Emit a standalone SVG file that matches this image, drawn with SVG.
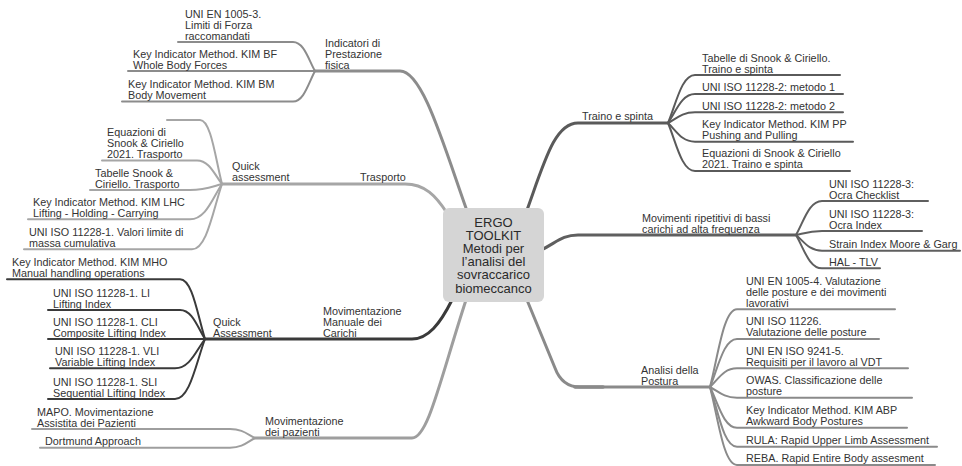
<svg xmlns="http://www.w3.org/2000/svg" width="962" height="466" viewBox="0 0 962 466">
  <style>
    .t { font-family: "Liberation Sans", Arial, sans-serif; font-size: 10.8px; fill: #333; }
    .c { font-family: "Liberation Sans", Arial, sans-serif; font-size: 13px; fill: #2a2a2a; text-anchor: middle; }
    .l { fill: none; stroke-linecap: round; stroke-linejoin: round; }
    .leaf { stroke-width: 2; }
    .main { stroke-width: 3; }
    .g1 { stroke: #8c8c8c; }
    .g2 { stroke: #a6a6a6; }
    .g3 { stroke: #3a3a3a; }
    .g4 { stroke: #9e9e9e; }
    .g5 { stroke: #5a5a5a; }
    .g6 { stroke: #5f5f5f; }
    .g7 { stroke: #8a8a8a; }
  </style>

  <g id="connectors">
    <!-- Indicatori di Prestazione fisica -->
    <path class="l main g1" d="M315,71 H400 C422,71 442,140 466,208"/>
    <path class="l leaf g1" d="M315,71 C308.4,59.4 304,42 293,42 H178"/>
    <path class="l leaf g1" d="M315,71 H128"/>
    <path class="l leaf g1" d="M315,71 C308.4,83.2 304,101.5 293,101.5 H122"/>

    <!-- Trasporto / Quick assessment -->
    <path class="l main g2" d="M222,184 H405 C425,184 436,196 447,213"/>
    <path class="l leaf g2" d="M222,184 C215.4,158.4 211,120 200,120 H167"/>
    <path class="l leaf g2" d="M222,184 C214.5,174.6 209.5,160.5 197,160.5 H102"/>
    <path class="l leaf g2" d="M222,184 C212.4,186.4 206,190 190,190 H90"/>
    <path class="l leaf g2" d="M222,184 C212.4,198.1 206,219.3 190,219.3 H28"/>
    <path class="l leaf g2" d="M222,184 C213,210 207,249.3 192,249.3 H24"/>

    <!-- Movimentazione Manuale dei Carichi / Quick Assessment -->
    <path class="l main g3" d="M205,339 H412 C428,339 440,324 452,300"/>
    <path class="l leaf g3" d="M205,339 C197.5,315.1 192.5,279.3 180,279.3 H7"/>
    <path class="l leaf g3" d="M205,339 C197.5,327.4 192.5,310 180,310 H48"/>
    <path class="l leaf g3" d="M205,339 H48"/>
    <path class="l leaf g3" d="M205,339 C196,350.7 190,368.3 175,368.3 H50"/>
    <path class="l leaf g3" d="M205,339 C196,363 190,399 175,399 H48"/>

    <!-- Movimentazione dei pazienti -->
    <path class="l main g4" d="M255,438 H412 C428,438 440,380 466,300"/>
    <path class="l leaf g4" d="M255,438 C247.5,434.4 242.5,429 230,429 H32"/>
    <path class="l leaf g4" d="M255,438 C247.5,441.9 242.5,447.7 230,447.7 H40"/>

    <!-- Traino e spinta -->
    <path class="l main g5" d="M527,210 C545,160 555,123 578,123 H668"/>
    <path class="l leaf g5" d="M668,123 C676.1,103.8 681.5,75 695,75 H840"/>
    <path class="l leaf g5" d="M668,123 C676.1,111.4 681.5,94 695,94 H843"/>
    <path class="l leaf g5" d="M668,123 C676.1,118.7 681.5,112.3 695,112.3 H843"/>
    <path class="l leaf g5" d="M668,123 C676.1,130.5 681.5,141.7 695,141.7 H853"/>
    <path class="l leaf g5" d="M668,123 C676.1,142.2 681.5,171 695,171 H850"/>

    <!-- Movimenti ripetitivi -->
    <path class="l main g6" d="M541,250 C556,243 562,235 578,235 H796"/>
    <path class="l leaf g6" d="M796,235 C803.8,221.4 809,201 822,201 H928"/>
    <path class="l leaf g6" d="M796,235 C803.8,233.4 809,231 822,231 H922"/>
    <path class="l leaf g6" d="M796,235 C803.8,241.3 809,250.7 822,250.7 H960"/>
    <path class="l leaf g6" d="M796,235 C803.8,248.3 809,268.3 822,268.3 H880"/>

    <!-- Analisi della Postura -->
    <path class="l main g7" d="M527,300 L555,368 Q562,387 580,387 H710"/>
    <path class="l g7" style="stroke-width:3.6" d="M575,387 H603"/>
    <path class="l leaf g7" d="M710,387 C718.1,355.9 723.5,309.3 737,309.3 H895"/>
    <path class="l leaf g7" d="M710,387 C718.1,367.8 723.5,339 737,339 H879"/>
    <path class="l leaf g7" d="M710,387 C718.1,379.5 723.5,368.3 737,368.3 H908"/>
    <path class="l leaf g7" d="M710,387 C718.1,391.3 723.5,397.7 737,397.7 H912"/>
    <path class="l leaf g7" d="M710,387 C718.1,403.3 723.5,427.7 737,427.7 H907"/>
    <path class="l leaf g7" d="M710,387 C718.1,410.9 723.5,446.7 737,446.7 H937"/>
    <path class="l leaf g7" d="M710,387 C718.1,418.2 723.5,465 737,465 H935"/>
  </g>

  <!-- central topic -->
  <g id="root">
    <rect x="443" y="208" width="101" height="94" rx="6" ry="6" fill="#d5d5d5"/>
    <text class="c" x="493.5" y="226.6">ERGO</text>
    <text class="c" x="493.5" y="239.8">TOOLKIT</text>
    <text class="c" x="493.5" y="253">Metodi per</text>
    <text class="c" x="493.5" y="266.2">l’analisi del</text>
    <text class="c" x="493.5" y="279.4">sovraccarico</text>
    <text class="c" x="493.5" y="292.6">biomeccanco</text>
  </g>

  <!-- Indicatori di Prestazione fisica -->
  <g id="indicatori">
    <text class="t" x="325" y="46.5">Indicatori di</text>
    <text class="t" x="325" y="57.5">Prestazione</text>
    <text class="t" x="325" y="68.5">fisica</text>
  </g>
  <g id="uni-en-1005-3">
    <text class="t" x="185" y="17.5">UNI EN 1005-3.</text>
    <text class="t" x="185" y="28.5">Limiti di Forza</text>
    <text class="t" x="185" y="39.5">raccomandati</text>
  </g>
  <g id="kim-bf">
    <text class="t" x="133" y="57.5">Key Indicator Method. KIM BF</text>
    <text class="t" x="133" y="68.5">Whole Body Forces</text>
  </g>
  <g id="kim-bm">
    <text class="t" x="128" y="88">Key Indicator Method. KIM BM</text>
    <text class="t" x="128" y="99">Body Movement</text>
  </g>

  <!-- Trasporto -->
  <g id="trasporto">
    <text class="t" x="360" y="181.3">Trasporto</text>
  </g>
  <g id="quick-assessment-trasporto">
    <text class="t" x="232" y="170.3">Quick</text>
    <text class="t" x="232" y="181.3">assessment</text>
  </g>
  <g id="equazioni-trasporto">
    <text class="t" x="107" y="136">Equazioni di</text>
    <text class="t" x="107" y="147">Snook &amp; Ciriello</text>
    <text class="t" x="107" y="158">2021. Trasporto</text>
  </g>
  <g id="tabelle-trasporto">
    <text class="t" x="95" y="176.5">Tabelle Snook &amp;</text>
    <text class="t" x="95" y="187.5">Ciriello. Trasporto</text>
  </g>
  <g id="kim-lhc">
    <text class="t" x="33" y="205.8">Key Indicator Method. KIM LHC</text>
    <text class="t" x="33" y="216.8">Lifting - Holding - Carrying</text>
  </g>
  <g id="uni-iso-11228-1-valori">
    <text class="t" x="29" y="235.8">UNI ISO 11228-1. Valori limite di</text>
    <text class="t" x="29" y="246.8">massa cumulativa</text>
  </g>

  <!-- Movimentazione Manuale dei Carichi -->
  <g id="mmc">
    <text class="t" x="323" y="314.8">Movimentazione</text>
    <text class="t" x="323" y="325.8">Manuale dei</text>
    <text class="t" x="323" y="336.8">Carichi</text>
  </g>
  <g id="quick-assessment-mmc">
    <text class="t" x="213" y="325.8">Quick</text>
    <text class="t" x="213" y="336.8">Assessment</text>
  </g>
  <g id="kim-mho">
    <text class="t" x="12" y="265.8">Key Indicator Method. KIM MHO</text>
    <text class="t" x="12" y="276.8">Manual handling operations</text>
  </g>
  <g id="li">
    <text class="t" x="53" y="296.5">UNI ISO 11228-1. LI</text>
    <text class="t" x="53" y="307.5">Lifting Index</text>
  </g>
  <g id="cli">
    <text class="t" x="53" y="325.8">UNI ISO 11228-1. CLI</text>
    <text class="t" x="53" y="336.8">Composite Lifting Index</text>
  </g>
  <g id="vli">
    <text class="t" x="55" y="354.8">UNI ISO 11228-1. VLI</text>
    <text class="t" x="55" y="365.8">Variable Lifting Index</text>
  </g>
  <g id="sli">
    <text class="t" x="53" y="385.5">UNI ISO 11228-1. SLI</text>
    <text class="t" x="53" y="396.5">Sequential Lifting Index</text>
  </g>

  <!-- Movimentazione dei pazienti -->
  <g id="pazienti">
    <text class="t" x="265" y="424.5">Movimentazione</text>
    <text class="t" x="265" y="435.5">dei pazienti</text>
  </g>
  <g id="mapo">
    <text class="t" x="37" y="415.5">MAPO. Movimentazione</text>
    <text class="t" x="37" y="426.5">Assistita dei Pazienti</text>
  </g>
  <g id="dortmund">
    <text class="t" x="45" y="445">Dortmund Approach</text>
  </g>

  <!-- Traino e spinta -->
  <g id="traino">
    <text class="t" x="582" y="120.3">Traino e spinta</text>
  </g>
  <g id="tabelle-traino">
    <text class="t" x="702" y="61.5">Tabelle di Snook &amp; Ciriello.</text>
    <text class="t" x="702" y="72.5">Traino e spinta</text>
  </g>
  <g id="metodo-1">
    <text class="t" x="702" y="91.3">UNI ISO 11228-2: metodo 1</text>
  </g>
  <g id="metodo-2">
    <text class="t" x="702" y="109.6">UNI ISO 11228-2: metodo 2</text>
  </g>
  <g id="kim-pp">
    <text class="t" x="702" y="128">Key Indicator Method. KIM PP</text>
    <text class="t" x="702" y="139">Pushing and Pulling</text>
  </g>
  <g id="equazioni-traino">
    <text class="t" x="702" y="157.3">Equazioni di Snook &amp; Ciriello</text>
    <text class="t" x="702" y="168.3">2021. Traino e spinta</text>
  </g>

  <!-- Movimenti ripetitivi -->
  <g id="ripetitivi">
    <text class="t" x="642" y="221.5">Movimenti ripetitivi di bassi</text>
    <text class="t" x="642" y="232.5">carichi ad alta frequenza</text>
  </g>
  <g id="ocra-checklist">
    <text class="t" x="829" y="187.5">UNI ISO 11228-3:</text>
    <text class="t" x="829" y="198.5">Ocra Checklist</text>
  </g>
  <g id="ocra-index">
    <text class="t" x="829" y="217.5">UNI ISO 11228-3:</text>
    <text class="t" x="829" y="228.5">Ocra Index</text>
  </g>
  <g id="strain-index">
    <text class="t" x="829" y="248">Strain Index Moore &amp; Garg</text>
  </g>
  <g id="hal-tlv">
    <text class="t" x="829" y="265.6">HAL - TLV</text>
  </g>

  <!-- Analisi della Postura -->
  <g id="postura">
    <text class="t" x="641" y="373.5">Analisi della</text>
    <text class="t" x="641" y="384.5">Postura</text>
  </g>
  <g id="uni-en-1005-4">
    <text class="t" x="746" y="284.6">UNI EN 1005-4. Valutazione</text>
    <text class="t" x="746" y="295.6">delle posture e dei movimenti</text>
    <text class="t" x="746" y="306.6">lavorativi</text>
  </g>
  <g id="uni-iso-11226">
    <text class="t" x="746" y="325.3">UNI ISO 11226.</text>
    <text class="t" x="746" y="336.3">Valutazione delle posture</text>
  </g>
  <g id="uni-en-iso-9241-5">
    <text class="t" x="746" y="354.6">UNI EN ISO 9241-5.</text>
    <text class="t" x="746" y="365.6">Requisiti per il lavoro al VDT</text>
  </g>
  <g id="owas">
    <text class="t" x="746" y="384">OWAS. Classificazione delle</text>
    <text class="t" x="746" y="395">posture</text>
  </g>
  <g id="kim-abp">
    <text class="t" x="746" y="414">Key Indicator Method. KIM ABP</text>
    <text class="t" x="746" y="425">Awkward Body Postures</text>
  </g>
  <g id="rula">
    <text class="t" x="746" y="444">RULA: Rapid Upper Limb Assessment</text>
  </g>
  <g id="reba">
    <text class="t" x="746" y="462.3">REBA. Rapid Entire Body assesment</text>
  </g>
</svg>
